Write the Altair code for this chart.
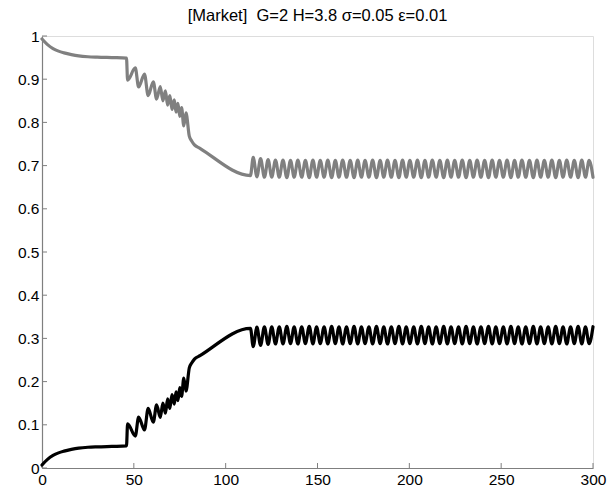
import altair as alt
import pandas as pd

title_text = "[Market]\u00a0\u00a0G=2 H=3.8 σ=0.05 ε=0.01"

# ---- phase before the steady oscillation (x, black share, gray share)
ramp_t = [0.0, 3.0, 6.0, 9.0, 12.0, 16.0, 20.0, 25.0, 30.0, 38.0, 46.0,
          46.6, 50.8, 52.6, 55.8, 57.8, 60.6, 62.4, 64.4, 65.8, 67.2, 68.4, 69.6,
          70.8, 72.0, 73.0, 74.0, 75.0, 76.0, 77.2, 78.4, 80.2, 81.5, 83.0, 86.0, 113.5]
ramp_black = [0.007, 0.020, 0.029, 0.035, 0.039, 0.043, 0.046, 0.048, 0.049, 0.050, 0.051,
              0.102, 0.074, 0.118, 0.088, 0.138, 0.106, 0.146, 0.117, 0.150, 0.127, 0.160, 0.138,
              0.170, 0.148, 0.176, 0.156, 0.186, 0.166, 0.208, 0.178, 0.232, 0.243, 0.252, 0.260, 0.323]
ramp_gray = [0.993, 0.980, 0.971, 0.965, 0.961, 0.957, 0.954, 0.952, 0.951, 0.950, 0.949,
             0.898, 0.926, 0.882, 0.912, 0.862, 0.894, 0.854, 0.883, 0.850, 0.873, 0.840, 0.862,
             0.830, 0.852, 0.824, 0.844, 0.814, 0.834, 0.792, 0.822, 0.768, 0.757, 0.748, 0.740, 0.677]

# ---- steady oscillation (turning points)
osc_t = [115.0,
         117.0, 119.0, 121.1, 123.1, 125.1, 127.1, 129.2, 131.2, 133.3, 135.3,
         137.3, 139.3, 141.4, 143.4, 145.5, 147.5, 149.5, 151.5, 153.6, 155.6,
         157.7, 159.7, 161.7, 163.7, 165.8, 167.8, 169.9, 171.9, 173.9, 175.9,
         178.0, 180.0, 182.1, 184.1, 186.1, 188.1, 190.2, 192.2, 194.3, 196.3,
         198.3, 200.3, 202.4, 204.4, 206.5, 208.5, 210.5, 212.5, 214.6, 216.6,
         218.7, 220.7, 222.7, 224.7, 226.8, 228.8, 230.9, 232.9, 234.9, 236.9,
         239.0, 241.0, 243.1, 245.1, 247.1, 249.1, 251.2, 253.2, 255.3, 257.3,
         259.3, 261.3, 263.4, 265.4, 267.5, 269.5, 271.5, 273.5, 275.6, 277.6,
         279.7, 281.7, 283.7, 285.7, 287.8, 289.8, 291.9, 293.9, 295.9, 297.9,
         300.0]
osc_black = [0.281,
             0.326, 0.284, 0.327, 0.286, 0.327, 0.287, 0.327, 0.287, 0.328, 0.288,
             0.327, 0.287, 0.327, 0.288, 0.328, 0.287, 0.327, 0.288, 0.327, 0.287,
             0.328, 0.288, 0.327, 0.287, 0.327, 0.288, 0.328, 0.287, 0.327, 0.288,
             0.327, 0.287, 0.328, 0.288, 0.327, 0.287, 0.327, 0.288, 0.328, 0.287,
             0.327, 0.288, 0.327, 0.287, 0.328, 0.288, 0.327, 0.287, 0.327, 0.288,
             0.328, 0.287, 0.327, 0.288, 0.327, 0.287, 0.328, 0.288, 0.327, 0.287,
             0.327, 0.288, 0.328, 0.287, 0.327, 0.288, 0.327, 0.287, 0.328, 0.288,
             0.327, 0.287, 0.327, 0.288, 0.328, 0.287, 0.327, 0.288, 0.327, 0.287,
             0.328, 0.288, 0.327, 0.287, 0.327, 0.288, 0.328, 0.287, 0.327, 0.288,
             0.327]
osc_gray = [0.719,
            0.674, 0.716, 0.673, 0.714, 0.673, 0.713, 0.673, 0.713, 0.672, 0.712,
            0.673, 0.713, 0.673, 0.712, 0.672, 0.713, 0.673, 0.712, 0.673, 0.713,
            0.672, 0.712, 0.673, 0.713, 0.673, 0.712, 0.672, 0.713, 0.673, 0.712,
            0.673, 0.713, 0.672, 0.712, 0.673, 0.713, 0.673, 0.712, 0.672, 0.713,
            0.673, 0.712, 0.673, 0.713, 0.672, 0.712, 0.673, 0.713, 0.673, 0.712,
            0.672, 0.713, 0.673, 0.712, 0.673, 0.713, 0.672, 0.712, 0.673, 0.713,
            0.673, 0.712, 0.672, 0.713, 0.673, 0.712, 0.673, 0.713, 0.672, 0.712,
            0.673, 0.713, 0.673, 0.712, 0.672, 0.713, 0.673, 0.712, 0.673, 0.713,
            0.672, 0.712, 0.673, 0.713, 0.673, 0.712, 0.672, 0.713, 0.673, 0.712,
            0.673]

x_ticks = [0, 50, 100, 150, 200, 250, 300]
y_ticks = [0, 0.1, 0.2, 0.3, 0.4, 0.5, 0.6, 0.7, 0.8, 0.9, 1.0]

W, H = 551, 432
AXIS_GRAY = "#7f7f7f"
FONT = "Liberation Sans"
LABEL_SIZE = 15.5

t_all = ramp_t + osc_t
rows = []
for t, v in zip(t_all, ramp_black + osc_black):
    rows.append({"t": t, "v": v, "s": "black"})
for t, v in zip(t_all, ramp_gray + osc_gray):
    rows.append({"t": t, "v": v, "s": "gray"})
df = pd.DataFrame(rows)

x_axis = alt.Axis(values=x_ticks, tickSize=0, labelPadding=4, domainColor=AXIS_GRAY,
                  domainWidth=1.2, grid=False, title=None, labelFlush=False,
                  labelFontSize=LABEL_SIZE, labelFont=FONT, labelColor="black")
y_axis = alt.Axis(values=y_ticks, format="~g", tickSize=0, labelPadding=3,
                  domainColor=AXIS_GRAY, domainWidth=1.2, grid=False, title=None,
                  labelFlush=False, labelFontSize=LABEL_SIZE, labelFont=FONT, labelColor="black")
x_scale = alt.Scale(domain=[0, 300], nice=False, zero=False)
y_scale = alt.Scale(domain=[0, 1], nice=False, zero=False)

lines = alt.Chart(df).mark_line(strokeWidth=3.2, strokeJoin="round", strokeCap="round",
                                interpolate="monotone").encode(
    x=alt.X("t:Q", scale=x_scale, axis=x_axis),
    y=alt.Y("v:Q", scale=y_scale, axis=y_axis),
    color=alt.Color("s:N", scale=alt.Scale(domain=["gray", "black"], range=["#808080", "#000000"]),
                    legend=None),
    detail="s:N",
    order="t:Q",
)

ytick_df = pd.DataFrame({"v": y_ticks})
xtick_df = pd.DataFrame({"t": x_ticks})

yt = alt.Chart(ytick_df).mark_rule(color=AXIS_GRAY, strokeWidth=1).encode(
    y=alt.Y("v:Q", scale=y_scale, axis=y_axis),
    x=alt.value(0), x2=alt.value(5),
)
xt = alt.Chart(xtick_df).mark_rule(color=AXIS_GRAY, strokeWidth=1).encode(
    x=alt.X("t:Q", scale=x_scale, axis=x_axis),
    y=alt.value(H), y2=alt.value(H - 5),
)

chart = alt.layer(yt, xt, lines).properties(
    width=W, height=H,
    title=alt.TitleParams(title_text, fontSize=16.5, font=FONT, fontWeight="normal",
                          anchor="middle", offset=5, color="black"),
    padding={"left": 42, "top": 36, "right": 15, "bottom": 29},
    autosize="none",
).configure_view(stroke=None).configure(background="white")

chart.save("out.html", embed_options={"renderer": "svg", "actions": False})
